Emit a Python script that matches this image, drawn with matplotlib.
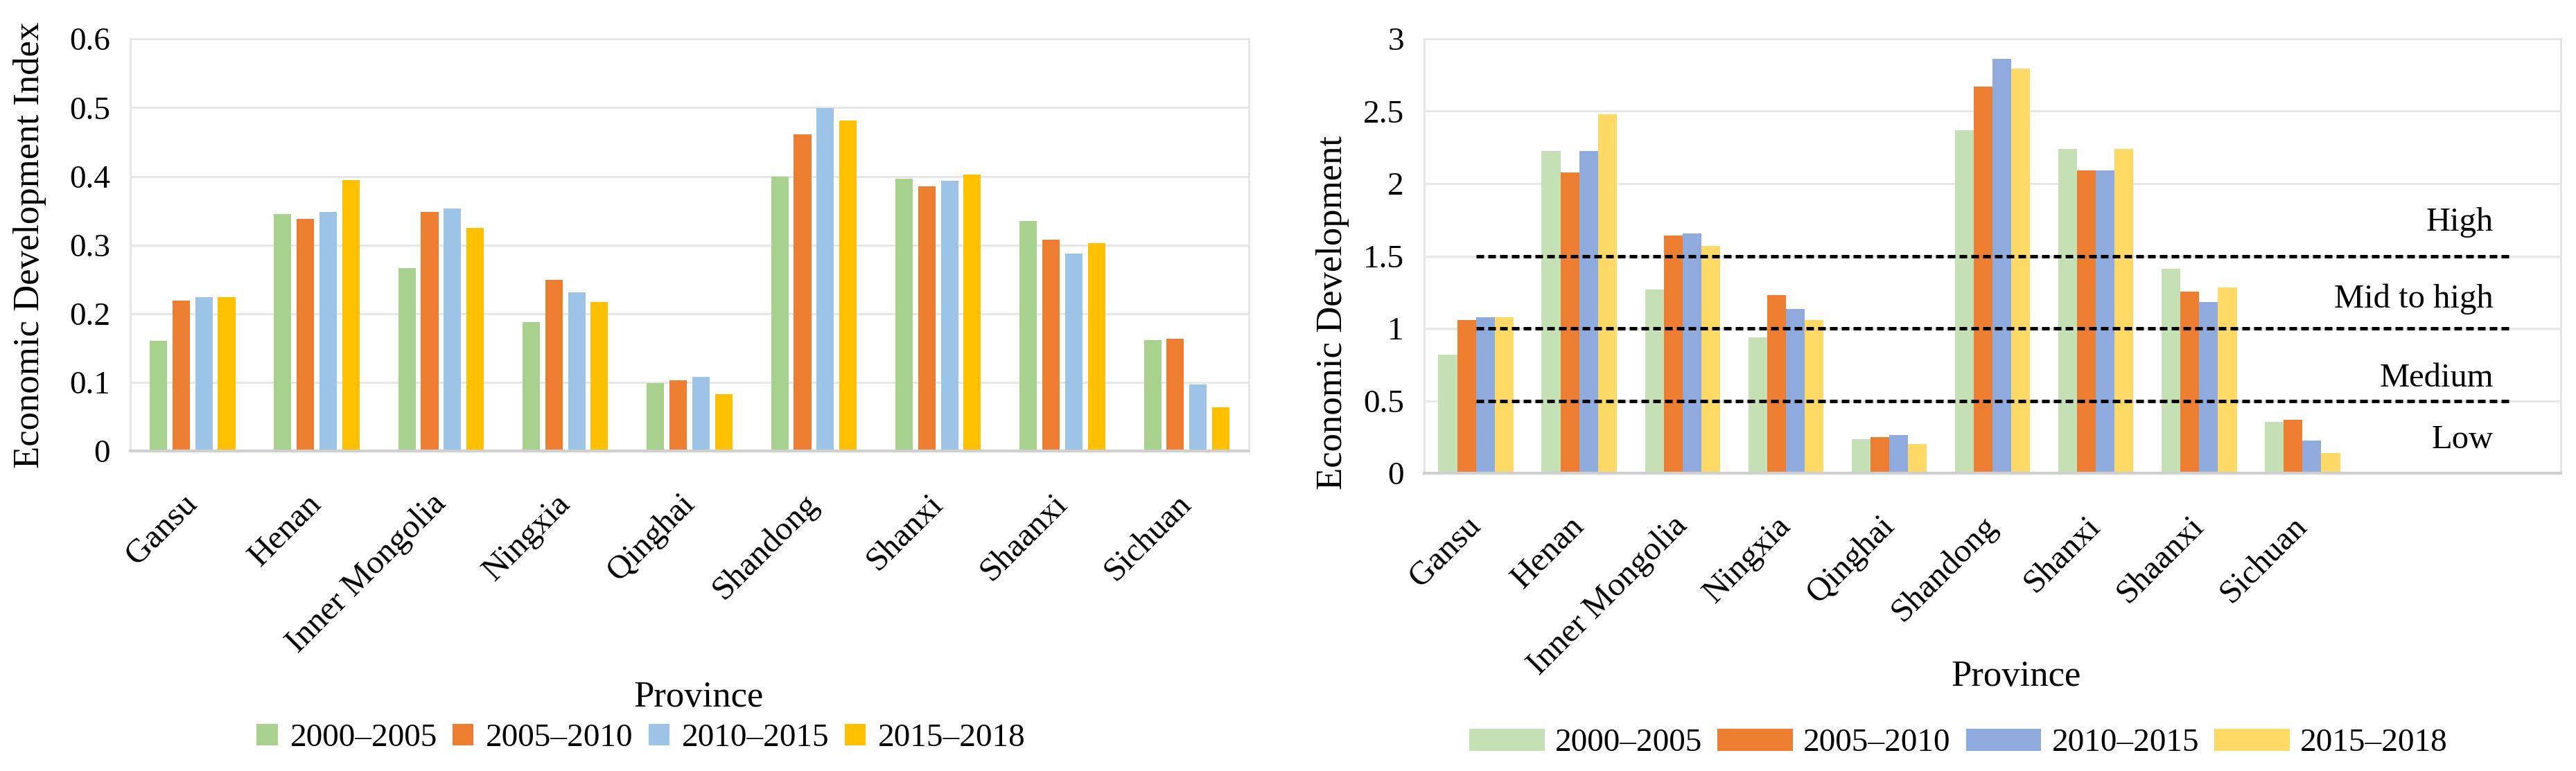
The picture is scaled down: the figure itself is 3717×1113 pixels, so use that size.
import matplotlib.pyplot as plt
import numpy as np

plt.rcParams["font.family"] = ["Liberation Serif", "DejaVu Serif"]

provinces = ["Gansu", "Henan", "Inner Mongolia", "Ningxia", "Qinghai",
             "Shandong", "Shanxi", "Shaanxi", "Sichuan"]
periods = ["2000\u20132005", "2005\u20132010", "2010\u20132015", "2015\u20132018"]

# left panel: economic development index
index_2000_2005 = [0.160, 0.345, 0.266, 0.188, 0.099, 0.399, 0.396, 0.335, 0.161]
index_2005_2010 = [0.219, 0.338, 0.348, 0.249, 0.103, 0.461, 0.385, 0.308, 0.163]
index_2010_2015 = [0.224, 0.348, 0.353, 0.231, 0.108, 0.499, 0.393, 0.288, 0.097]
index_2015_2018 = [0.224, 0.394, 0.325, 0.217, 0.083, 0.481, 0.403, 0.303, 0.064]

# right panel: economic development (scaled)
level_2000_2005 = [0.82, 2.225, 1.266, 0.939, 0.235, 2.369, 2.239, 1.413, 0.355]
level_2005_2010 = [1.058, 2.078, 1.642, 1.232, 0.249, 2.669, 2.089, 1.253, 0.370]
level_2010_2015 = [1.075, 2.225, 1.655, 1.133, 0.263, 2.863, 2.089, 1.184, 0.225]
level_2015_2018 = [1.075, 2.478, 1.570, 1.058, 0.200, 2.792, 2.239, 1.283, 0.140]

thresholds = [1.5, 1.0, 0.5]
band_labels = ["High", "Mid to high", "Medium", "Low"]
band_label_y = [1.73, 1.20, 0.655, 0.23]

left_colors = ["#A9D18E", "#ED7D31", "#9DC3E6", "#FFC000"]
right_colors = ["#C5E0B4", "#ED7D31", "#8FAADC", "#FFD966"]

fig = plt.figure(figsize=(37.17, 11.13), dpi=100)
ax1 = fig.add_axes([0.0506, 0.415, 0.4342, 0.5345])
ax2 = fig.add_axes([0.5529, 0.3863, 0.4412, 0.5634])

x = np.arange(len(provinces))


def style_axes(ax):
    ax.grid(axis="y", color="#E6E6E6", linewidth=2)
    ax.set_axisbelow(True)
    for side in ["left", "right", "top"]:
        ax.spines[side].set_color("#E6E6E6")
        ax.spines[side].set_linewidth(2)
    ax.spines["bottom"].set_color("#CFCFCF")
    ax.spines["bottom"].set_linewidth(3)
    ax.tick_params(axis="both", length=0, labelsize=34)
    ax.tick_params(axis="y", pad=21)
    ax.tick_params(axis="x", pad=50, labelsize=35)
    ax.set_xticks(x)
    ax.set_xticklabels(provinces, rotation=45, ha="right", va="center",
                       rotation_mode="anchor")


# left panel
left_series = [index_2000_2005, index_2005_2010, index_2010_2015, index_2015_2018]
slot = 0.183
for i, (vals, c) in enumerate(zip(left_series, left_colors)):
    ax1.bar(x + (i - 1.5) * slot, vals, width=0.14, color=c, label=periods[i])
ax1.set_xlim(-0.5, len(provinces) - 0.5)
ax1.set_ylim(0, 0.6)
ax1.set_yticks(np.arange(0, 0.61, 0.1))
ax1.set_yticklabels(["0", "0.1", "0.2", "0.3", "0.4", "0.5", "0.6"])
style_axes(ax1)
ax1.set_ylabel("Economic Development Index", fontsize=38)
ax1.yaxis.set_label_coords(-0.075, 0.5)
ax1.set_xlabel("Province", fontsize=38)
ax1.xaxis.set_label_coords(0.508, -0.558)
fig.legend(*ax1.get_legend_handles_labels(), loc="center", ncol=4,
           bbox_to_anchor=(0.2489, 0.0422), frameon=False, fontsize=34,
           handlelength=0.64, handleheight=0.64, handletextpad=0.38,
           columnspacing=0.47, borderaxespad=0)

# right panel
right_series = [level_2000_2005, level_2005_2010, level_2010_2015, level_2015_2018]
w = 0.182
for i, (vals, c) in enumerate(zip(right_series, right_colors)):
    ax2.bar(x + (i - 1.5) * w, vals, width=w, color=c, label=periods[i])
ax2.set_xlim(-0.5, 10.5)
ax2.set_ylim(0, 3)
ax2.set_yticks(np.arange(0, 3.01, 0.5))
ax2.set_yticklabels(["0", "0.5", "1", "1.5", "2", "2.5", "3"])
style_axes(ax2)
for t in thresholds:
    ax2.plot([0, 10], [t, t], color="black", linewidth=3.6,
             linestyle=(0, (2.2, 1.2)))
for lab, yv in zip(band_labels, band_label_y):
    ax2.text(9.85, yv, lab, ha="right", va="center", fontsize=35)
ax2.set_ylabel("Economic Development", fontsize=38)
ax2.yaxis.set_label_coords(-0.066, 0.37)
ax2.set_xlabel("Province", fontsize=38)
ax2.xaxis.set_label_coords(0.521, -0.431)
fig.legend(*ax2.get_legend_handles_labels(), loc="center", ncol=4,
           bbox_to_anchor=(0.7603, 0.036), frameon=False, fontsize=34,
           handlelength=2.3, handleheight=0.68, handletextpad=0.32,
           columnspacing=0.47, borderaxespad=0)

fig.savefig("out.png", dpi=100)
